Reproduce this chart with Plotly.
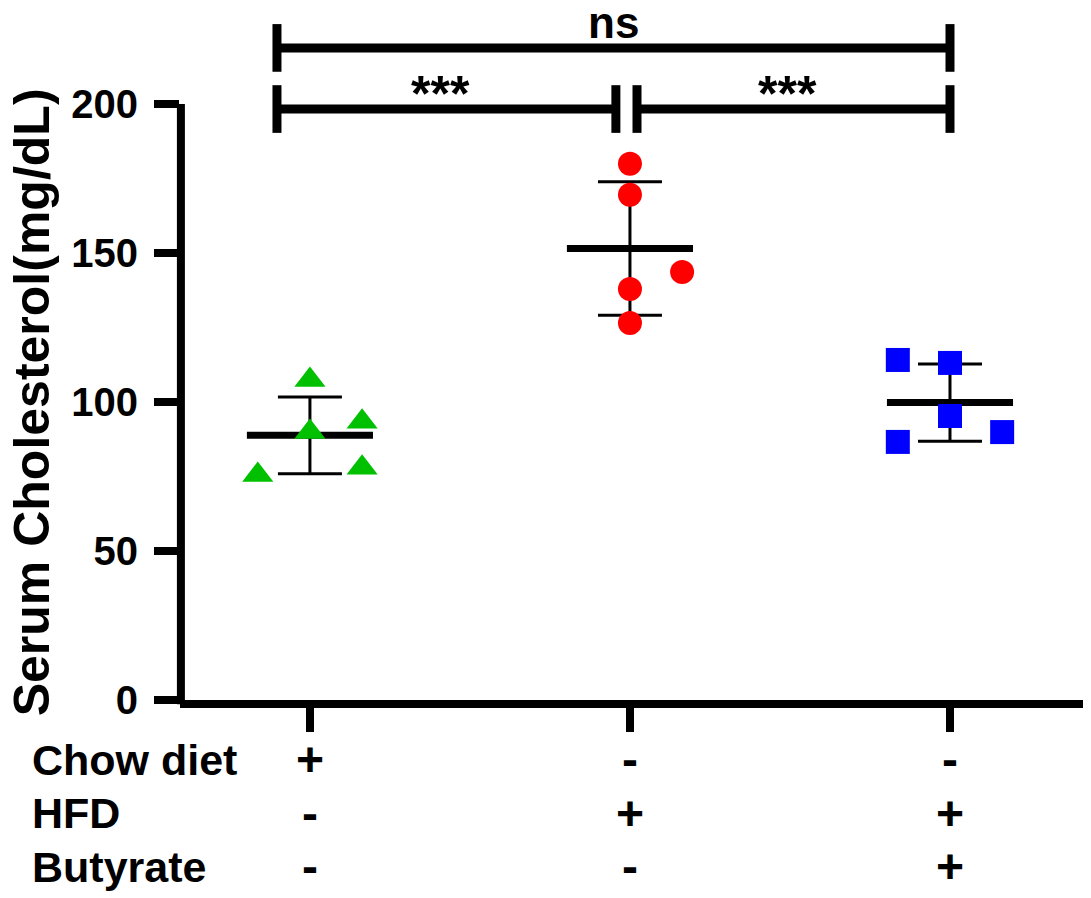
import numpy as np
import plotly.graph_objects as go

# group positions and data
groups = [1, 2, 3]
chow = [107.4, 93.4, 89.9, 75.5, 77.9]
hfd = [179.9, 169.5, 143.6, 137.9, 126.5]
hfd_but = [114.1, 113.1, 95.3, 86.6, 89.9]
# horizontal scatter of points (in group units)
jit_chow = [0, 1, 0, -1, 1]
jit_hfd = [0, 0, 1, 0, 0]
jit_but = [-1, 0, 0, -1, 1]

row_names = ["Chow diet", "HFD", "Butyrate"]
row_signs = [["+", "-", "-"], ["-", "+", "+"], ["-", "-", "+"]]
row_y = [-20, -38, -56]

y_ticks = [0, 50, 100, 150, 200]

# comparisons: (x0, x1, y, label)
comparisons = [(0.897, 1.956, 198.3, "***"), (2.022, 3.0, 198.3, "***"), (0.897, 3.0, 218.8, "ns")]

series = [
    (chow, jit_chow, "triangle-up", "rgb(0,192,0)", 27),
    (hfd, jit_hfd, "circle", "rgb(255,0,0)", 24),
    (hfd_but, jit_but, "square", "rgb(0,0,255)", 24),
]

FONT = "Liberation Sans, Arial, sans-serif"
jw = 0.163
mean_half = 0.197
ymax = 232.2

fig = go.Figure()

for g, (vals, jit, sym, col, sz) in zip(groups, series):
    m = np.mean(vals)
    sd = np.std(vals, ddof=1)
    # SD bars
    fig.add_trace(go.Scatter(x=[g], y=[m], mode="markers", marker=dict(size=1, color="black", opacity=0),
                             error_y=dict(type="data", array=[sd], color="black", thickness=3, width=32),
                             showlegend=False, hoverinfo="skip"))
    # mean line
    fig.add_trace(go.Scatter(x=[g - mean_half, g + mean_half], y=[m, m], mode="lines",
                             line=dict(color="black", width=7), showlegend=False))
    fig.add_trace(go.Scatter(x=[g + j * jw for j in jit], y=vals, mode="markers",
                             marker=dict(symbol=sym, size=sz, color=col), showlegend=False))

shapes = [dict(type="line", xref="paper", yref="paper", x0=0.001, x1=0.001, y0=-0.006, y1=max(y_ticks) / ymax,
               line=dict(color="black", width=8))]
annotations = []
for x0, x1, y, lab in comparisons:
    tick = 8
    shapes.append(dict(type="line", xref="x", yref="y", x0=x0, x1=x1, y0=y, y1=y, line=dict(color="black", width=9)))
    for xx in (x0, x1):
        shapes.append(dict(type="line", xref="x", yref="y", x0=xx, x1=xx, y0=y - tick, y1=y + tick,
                           line=dict(color="black", width=9)))
    if lab == "ns":
        annotations.append(dict(x=(x0 + x1) / 2, y=y + 8.5, xref="x", yref="y", text=lab, showarrow=False,
                                yanchor="middle", font=dict(family=FONT, size=44, color="black", weight="bold")))
    else:
        annotations.append(dict(x=(x0 + x1) / 2 - 0.02, y=y + 5, xref="x", yref="y", text=lab, showarrow=False,
                                yanchor="middle", font=dict(family=FONT, size=50, color="black", weight="bold")))

for name, signs, ry in zip(row_names, row_signs, row_y):
    annotations.append(dict(x=-0.166, y=ry / ymax, xref="paper", yref="paper", text=name, showarrow=False,
                            xanchor="left", yanchor="middle",
                            font=dict(family=FONT, size=43, color="black", weight="bold")))
    for g, s in zip(groups, signs):
        annotations.append(dict(x=g, y=ry / ymax, xref="x", yref="paper", text=s, showarrow=False,
                                yanchor="middle", font=dict(family=FONT, size=48, color="black", weight="bold")))

annotations.append(dict(x=-0.163, y=100, xref="paper", yref="y", text="Serum Cholesterol(mg/dL)", textangle=-90,
                        xanchor="center", showarrow=False,
                        font=dict(family=FONT, size=50, color="black", weight="bold")))

fig.update_layout(
    width=1091, height=898,
    margin=dict(l=172, r=13, t=0, b=206),
    plot_bgcolor="white", paper_bgcolor="white",
    shapes=shapes, annotations=annotations,
    xaxis=dict(range=[0.594, 3.425], showgrid=False, zeroline=False, showline=True, linecolor="black", linewidth=8,
               ticks="outside", tickvals=groups, ticklen=24, tickwidth=8, tickcolor="black", showticklabels=False),
    yaxis=dict(range=[0, ymax], showgrid=False, zeroline=False, showline=False, ticks="outside",
               tickvals=y_ticks, ticklen=25, tickwidth=8, tickcolor="black", ticklabelstandoff=8,
               tickfont=dict(family=FONT, size=40, color="black", weight="bold")),
)

fig.write_html("out.html")
